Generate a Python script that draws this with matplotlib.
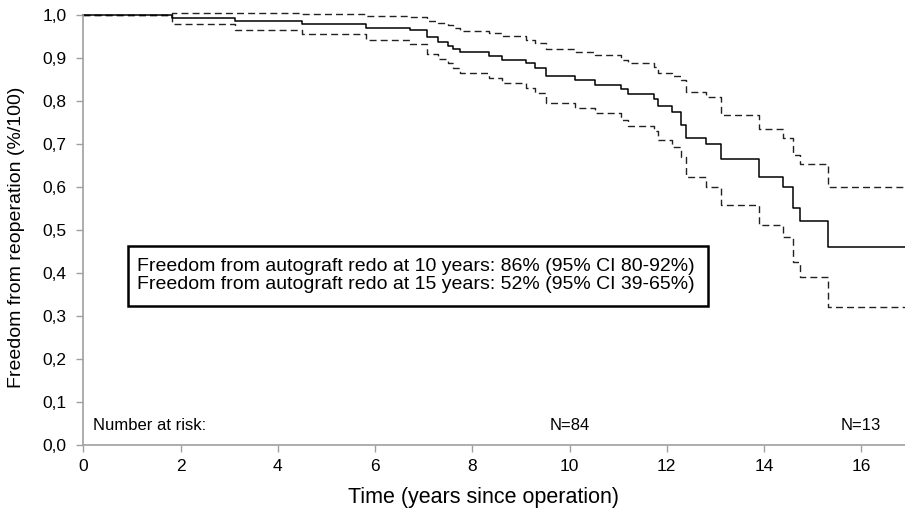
import matplotlib
matplotlib.use("Agg")
import matplotlib.pyplot as plt
from matplotlib.patches import Rectangle

plt.rcParams['font.family'] = ['Liberation Sans', 'DejaVu Sans']

# Event times (years) and Kaplan-Meier estimates with 95% CI
times = [0, 1.82, 3.12, 4.49, 5.81, 6.71, 7.07, 7.29, 7.50, 7.60, 7.74, 8.34, 8.61,
         9.11, 9.30, 9.51, 10.11, 10.52, 11.06, 11.20, 11.73, 11.81, 12.11, 12.30,
         12.40, 12.81, 13.12, 13.90, 14.40, 14.60, 14.75, 15.31]
survival = [1.0, 0.992, 0.985, 0.979, 0.970, 0.964, 0.948, 0.938, 0.929, 0.921, 0.913,
            0.905, 0.895, 0.888, 0.876, 0.858, 0.848, 0.838, 0.827, 0.816, 0.804, 0.788,
            0.775, 0.744, 0.715, 0.699, 0.664, 0.623, 0.599, 0.550, 0.522, 0.460]
upper_ci = [1.0, 1.005, 1.005, 1.002, 0.998, 0.996, 0.985, 0.981, 0.976, 0.969, 0.963,
            0.957, 0.951, 0.943, 0.936, 0.921, 0.915, 0.907, 0.895, 0.889, 0.880, 0.864,
            0.858, 0.850, 0.820, 0.810, 0.767, 0.734, 0.715, 0.674, 0.653, 0.601]
lower_ci = [1.0, 0.980, 0.966, 0.955, 0.943, 0.933, 0.909, 0.898, 0.888, 0.876, 0.865,
            0.853, 0.843, 0.830, 0.819, 0.796, 0.783, 0.771, 0.756, 0.741, 0.730, 0.709,
            0.692, 0.670, 0.623, 0.601, 0.558, 0.512, 0.484, 0.426, 0.391, 0.322]
t_end = 16.9

risk_times = [10, 16]
risk_labels = ["N=84", "N=13"]

x_ticks = [0, 2, 4, 6, 8, 10, 12, 14, 16]
y_ticks = [0.0, 0.1, 0.2, 0.3, 0.4, 0.5, 0.6, 0.7, 0.8, 0.9, 1.0]
y_ticklabels = ["0,0", "0,1", "0,2", "0,3", "0,4", "0,5", "0,6", "0,7", "0,8", "0,9", "1,0"]

box_lines = ["Freedom from autograft redo at 10 years: 86% (95% CI 80-92%)",
             "Freedom from autograft redo at 15 years: 52% (95% CI 39-65%)"]

W, H = 905, 511
fig = plt.figure(figsize=(W / 100, H / 100), dpi=100)
ax_left, ax_right, ax_bottom, ax_top = 83.3, 905, 445, 15
ax = fig.add_axes([ax_left / W, (H - ax_bottom) / H,
                   (ax_right - ax_left) / W, (ax_bottom - ax_top) / H])

def ext(vals):
    return list(vals) + [vals[-1]]

tx = times + [t_end]
ax.step(tx, ext(upper_ci), where='post', color='#222222', lw=1.0,
        linestyle=(0, (5, 3)), clip_on=False)
ax.step(tx, ext(lower_ci), where='post', color='#222222', lw=1.0,
        linestyle=(0, (5, 3)), clip_on=False)
ax.step(tx, ext(survival), where='post', color='black', lw=1.1, clip_on=False)

ax.set_xlim(0, t_end)
ax.set_ylim(0, 1.0)
ax.set_xticks(x_ticks)
ax.set_xticklabels([str(v) for v in x_ticks], fontsize=12.5)
ax.set_yticks(y_ticks)
ax.set_yticklabels(y_ticklabels, fontsize=12.5)

for s in ['top', 'right']:
    ax.spines[s].set_visible(False)
for s in ['left', 'bottom']:
    ax.spines[s].set_color('#a0a0a0')
    ax.spines[s].set_linewidth(1.2)
ax.tick_params(axis='both', direction='out', length=5, width=1.0, color='#a0a0a0',
               labelcolor='black')
ax.tick_params(axis='x', pad=5)
ax.tick_params(axis='y', pad=7)

ax.set_xlabel("Time (years since operation)", fontsize=15.5)
ax.xaxis.label.set_va('center')
ax.xaxis.set_label_coords(0.4876, -(497 - 445) / 430)
ax.set_ylabel("Freedom from reoperation (%/100)", fontsize=14)
ax.yaxis.label.set_va('center')
ax.yaxis.set_label_coords(-(83.3 - 17) / 821.7, (445 - 237) / 430)

ax.text(0.2, 0.046, "Number at risk:", fontsize=12, ha='left', va='center')
for t, lab in zip(risk_times, risk_labels):
    ax.text(t, 0.046, lab, fontsize=12, ha='center', va='center')

# annotation box (pixel layout converted to data coords)
def px_to_data(px, py):
    return ((px - ax_left) / (ax_right - ax_left) * t_end,
            1 - (py - ax_top) / (ax_bottom - ax_top))

x0, y0 = px_to_data(128, 306)
x1, y1 = px_to_data(708, 246)
ax.add_patch(Rectangle((x0, y0), x1 - x0, y1 - y0, facecolor='white',
                       edgecolor='black', linewidth=1.8, zorder=5))
for i, line in enumerate(box_lines):
    tx_, ty_ = px_to_data(137, 266 + 18.5 * i)
    ax.text(tx_, ty_, line, fontsize=14, ha='left', va='center', zorder=6)

fig.savefig("out.png", dpi=100)
